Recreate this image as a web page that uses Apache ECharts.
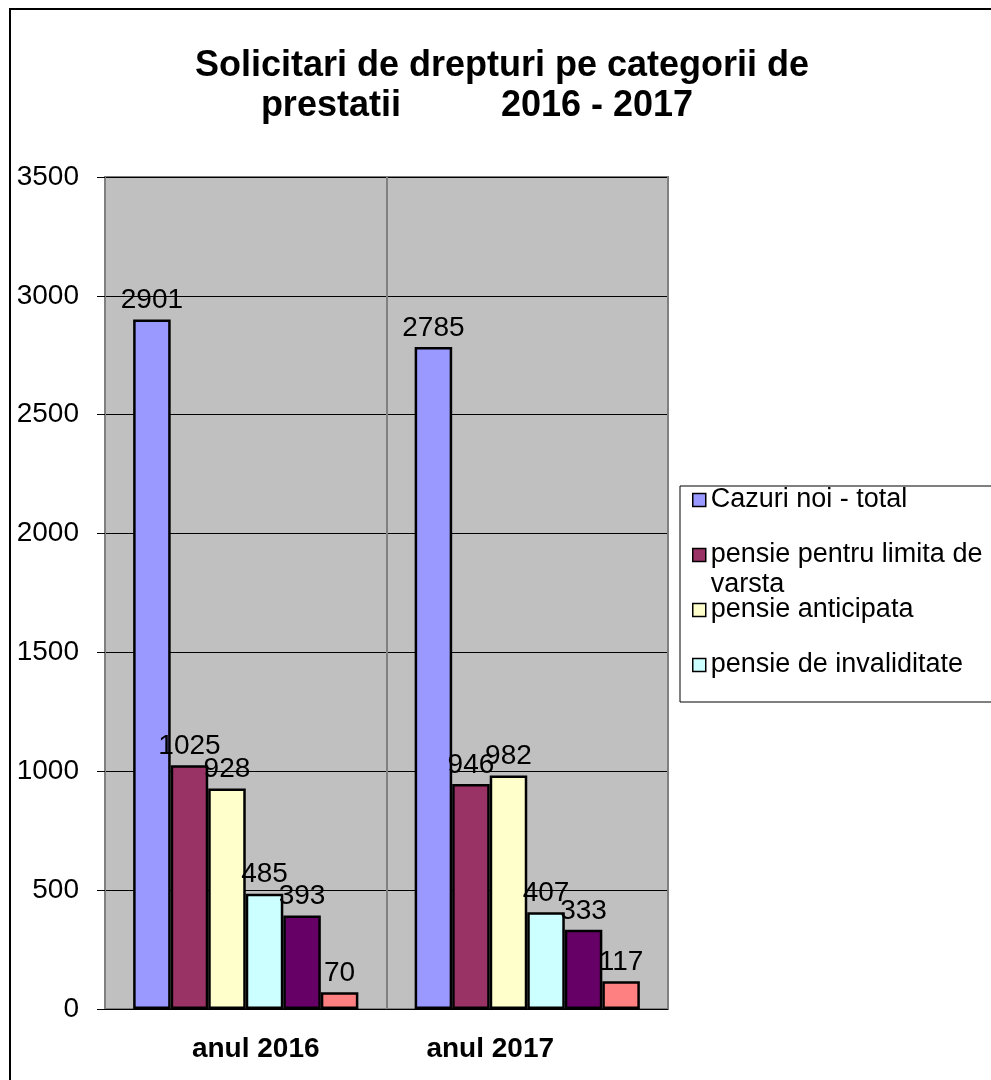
<!DOCTYPE html>
<html>
<head>
<meta charset="utf-8">
<title>Solicitari de drepturi</title>
<script src="https://cdn.jsdelivr.net/npm/echarts@6/dist/echarts.min.js"></script>
<style>
html, body { margin: 0; padding: 0; background: #fff; overflow: hidden; }
#chart { width: 991px; height: 1080px; }
</style>
</head>
<body>
<div id="chart"></div>
<script>
// datele graficului
var categorii = ['anul 2016', 'anul 2017'];
var serii = ['Cazuri noi - total', 'pensie pentru limita de varsta', 'pensie anticipata',
    'pensie de invaliditate', 'seria 5', 'seria 6'];
var culori = ['#9999FF', '#993366', '#FFFFCC', '#CCFFFF', '#660066', '#FF8080'];
var valori = [
    [2901, 2785],
    [1025, 946],
    [928, 982],
    [485, 407],
    [393, 333],
    [70, 117]
];
var legenda = ['Cazuri noi - total', 'pensie pentru limita de varsta', 'pensie anticipata', 'pensie de invaliditate'];
var legendaText = {
    'Cazuri noi - total': 'Cazuri noi - total',
    'pensie pentru limita de varsta': 'pensie pentru limita de\nvarsta',
    'pensie anticipata': 'pensie anticipata',
    'pensie de invaliditate': 'pensie de invaliditate'
};

var font = 'Liberation Sans, Arial, sans-serif';
var myChart = echarts.init(document.getElementById('chart'));

var series = serii.map(function (nume, i) {
    return {
        name: nume,
        type: 'bar',
        data: valori[i],
        barGap: 0,
        barCategoryGap: '20%',
        itemStyle: { color: culori[i], borderColor: '#000', borderWidth: 2.5 },
        label: {
            show: true,
            position: 'top',
            distance: 5,
            color: '#000',
            fontFamily: font,
            fontSize: 28
        }
    };
});

option = {
    animation: false,
    color: culori,
    textStyle: { fontFamily: font },
    graphic: [
        { type: 'rect', z: -10, shape: { x: 10, y: 9, width: 1200, height: 1200 },
          style: { fill: '#fff', stroke: '#000', lineWidth: 2 } },
        { type: 'rect', z: -5, shape: { x: 680, y: 486, width: 400, height: 216 },
          style: { fill: '#fff', stroke: '#000', lineWidth: 1 } }
    ],
    title: {
        // spatiile de la final muta randul doi putin spre stanga, ca in original
        text: 'Solicitari de drepturi pe categorii de\nprestatii          2016 - 2017     ',
        left: 502,
        top: 46,
        padding: 0,
        textAlign: 'center',
        textStyle: { fontFamily: font, fontSize: 36, fontWeight: 'bold', color: '#000', lineHeight: 40 }
    },
    legend: {
        data: legenda,
        orient: 'vertical',
        left: 692,
        top: 455,
        padding: 0,
        itemGap: -35,
        itemWidth: 13,
        itemHeight: 13,
        icon: 'rect',
        itemStyle: { borderColor: '#000', borderWidth: 1.5 },
        // linie goala sus pentru ca iconita sa stea pe primul rand
        formatter: function (name) {
            var t = legendaText[name];
            return t.indexOf('\n') >= 0 ? '\n' + t : '\n' + t + '\n';
        },
        textStyle: { fontFamily: font, fontSize: 27, color: '#000', lineHeight: 30 }
    },
    grid: {
        left: 105, right: 323, top: 177, bottom: 71,
        show: true,
        backgroundColor: '#C0C0C0',
        borderColor: '#808080',
        borderWidth: 2
    },
    xAxis: {
        type: 'category',
        data: categorii,
        axisLine: { show: false },
        axisTick: { show: false },
        splitLine: { show: true, lineStyle: { color: '#808080', width: 2 } },
        axisLabel: {
            margin: 24,
            formatter: function (v, idx) { return '{c' + idx + '|' + v + '}'; },
            rich: {
                c0: { fontFamily: font, fontSize: 28, fontWeight: 'bold', color: '#000', lineHeight: 32, padding: [0, 0, 0, 20] },
                c1: { fontFamily: font, fontSize: 28, fontWeight: 'bold', color: '#000', lineHeight: 32, padding: [0, 74, 0, 0] }
            }
        }
    },
    yAxis: {
        type: 'value',
        min: 0,
        max: 3500,
        interval: 500,
        axisLine: { show: false },
        axisTick: { show: true, length: 8, lineStyle: { color: '#000', width: 1 } },
        splitLine: { show: true, lineStyle: { color: '#000', width: 1 } },
        axisLabel: {
            margin: 26, color: '#000', fontFamily: font, fontSize: 28,
            formatter: function (v) { return String(v); }
        }
    },
    series: series
};
myChart.setOption(option);
</script>
</body>
</html>
